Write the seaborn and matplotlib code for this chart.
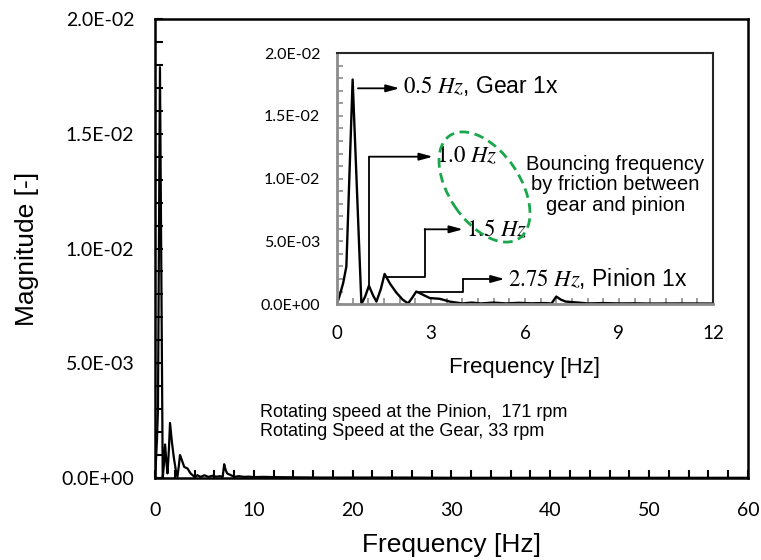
import matplotlib
matplotlib.use("Agg")
import matplotlib.pyplot as plt
from matplotlib.patches import Ellipse
from matplotlib.ticker import FuncFormatter, MultipleLocator
import seaborn as sns
import pandas as pd

# spectrum (Hz, magnitude)
freq_hz = [0.0, 0.1, 0.2, 0.3, 0.5, 0.78, 0.9, 1.02, 1.15, 1.26, 1.4, 1.52,
           1.7, 1.9, 2.1, 2.27, 2.4, 2.53, 2.7, 2.96, 3.28, 3.6, 4.0, 4.3,
           4.6, 5.0, 5.4, 5.8, 6.2, 6.6, 6.85, 7.0, 7.15, 7.3, 7.7, 8.0,
           8.5, 9.0, 9.5, 10.0, 11.0, 12.0, 14.0, 17.0, 20.0, 25.0, 30.0,
           35.0, 40.0, 45.0, 50.0, 55.0, 60.0]
magnitude = [0.0, 0.8e-3, 1.7e-3, 3.0e-3, 17.9e-3, 0.0, 0.6e-3, 1.46e-3,
             0.7e-3, 0.2e-3, 1.2e-3, 2.4e-3, 1.6e-3, 0.9e-3, 0.35e-3,
             0.05e-3, 0.5e-3, 1.0e-3, 0.8e-3, 0.48e-3, 0.42e-3, 0.2e-3,
             0.05e-3, 0.12e-3, 0.05e-3, 0.12e-3, 0.05e-3, 0.1e-3, 0.06e-3,
             0.08e-3, 0.05e-3, 0.6e-3, 0.35e-3, 0.2e-3, 0.12e-3, 0.05e-3,
             0.08e-3, 0.05e-3, 0.06e-3, 0.04e-3, 0.05e-3, 0.04e-3, 0.03e-3,
             0.02e-3, 0.02e-3, 0.02e-3, 0.01e-3, 0.01e-3, 0.01e-3, 0.01e-3,
             0.01e-3, 0.01e-3, 0.01e-3]

main_xticks = [0, 10, 20, 30, 40, 50, 60]
inset_xticks = [0, 3, 6, 9, 12]
yticks = [0.0, 0.005, 0.010, 0.015, 0.020]

sns.set_style("ticks")
plt.rcParams["font.family"] = ["Liberation Sans", "DejaVu Sans"]
plt.rcParams["mathtext.fontset"] = "stix"
plt.rcParams["text.color"] = "black"
plt.rcParams["axes.labelcolor"] = "black"
plt.rcParams["xtick.labelcolor"] = "black"
plt.rcParams["ytick.labelcolor"] = "black"

df = pd.DataFrame({"freq": freq_hz, "mag": magnitude})
sci = FuncFormatter(lambda v, p: format(v, ".1E"))

fig = plt.figure(figsize=(7.61, 5.6), dpi=100)

# main axes
ax = fig.add_axes([0.2037, 0.1464, 0.779, 0.8196])
sns.lineplot(data=df, x="freq", y="mag", ax=ax, color="black", lw=1.6)
ax.set_xlim(0, 60)
ax.set_ylim(0, 0.02)
ax.set_xticks(main_xticks)
ax.set_yticks(yticks)
ax.xaxis.set_minor_locator(MultipleLocator(2))
ax.yaxis.set_minor_locator(MultipleLocator(0.001))
ax.yaxis.set_major_formatter(sci)
ax.tick_params(which="both", direction="in", width=1.5, color="black",
               labelcolor="black", length=6, labelsize=14)
ax.tick_params(axis="y", pad=15)
ax.tick_params(axis="x", pad=17)
for lab in ax.get_xticklabels() + ax.get_yticklabels():
    lab.set_fontfamily("Lato")
for s in ax.spines.values():
    s.set_linewidth(1.8)
    s.set_color("black")
ax.set_xlabel("Frequency [Hz]", fontsize=19, labelpad=10)
ax.set_ylabel("Magnitude [-]", fontsize=19, labelpad=16)

ax.text(0.177, 0.122, "Rotating speed at the Pinion,  171 rpm\n"
        "Rotating Speed at the Gear, 33 rpm",
        transform=ax.transAxes, fontsize=13, va="center", linespacing=1.2)

# inset axes
ax_in = fig.add_axes([0.4428, 0.457, 0.494, 0.448])
sns.lineplot(data=df, x="freq", y="mag", ax=ax_in, color="black", lw=1.7)
ax_in.set_xlim(0, 12)
ax_in.set_ylim(0, 0.02)
ax_in.set_xticks(inset_xticks)
ax_in.set_yticks(yticks)
ax_in.xaxis.set_minor_locator(MultipleLocator(0.5))
ax_in.yaxis.set_minor_locator(MultipleLocator(0.001))
ax_in.yaxis.set_major_formatter(sci)
ax_in.tick_params(which="both", direction="in", width=1.2, color="#8c8c8c",
                  labelcolor="black", length=4)
ax_in.tick_params(axis="y", labelsize=11.5, pad=12)
ax_in.tick_params(axis="x", labelsize=13.5, pad=15)
for lab in ax_in.get_xticklabels() + ax_in.get_yticklabels():
    lab.set_fontfamily("Lato")
ax_in.spines["left"].set_color("#8c8c8c")
ax_in.spines["bottom"].set_color("#8c8c8c")
ax_in.spines["left"].set_linewidth(2)
ax_in.spines["bottom"].set_linewidth(2)
ax_in.spines["top"].set_linewidth(1.5)
ax_in.spines["right"].set_linewidth(1.5)
ax_in.set_xlabel("Frequency [Hz]", fontsize=16, labelpad=11)
ax_in.set_ylabel("")

# elbow arrows to the peaks
arrow_kw = dict(arrowstyle="-|>,head_length=0.8,head_width=0.22",
                color="black", lw=1.3, shrinkA=0, shrinkB=0)
paths = [
    ([0.67, 2.0], [17.2e-3, 17.2e-3]),
    ([1.02, 1.02, 3.06], [1.45e-3, 11.75e-3, 11.75e-3]),
    ([1.57, 2.8, 2.8, 4.02], [2.15e-3, 2.15e-3, 5.96e-3, 5.96e-3]),
    ([2.53, 4.02, 4.02, 5.35], [1.0e-3, 1.0e-3, 2.0e-3, 2.0e-3]),
]
for xs, ys in paths:
    ax_in.plot(xs[:-1], ys[:-1], color="black", lw=1.3)
    ax_in.annotate("", xy=(xs[-1], ys[-1]), xytext=(xs[-2], ys[-2]),
                   arrowprops=arrow_kw)

labels = [
    (2.12, 17.35e-3, r"$0.5\ Hz$, Gear 1x"),
    (3.15, 11.85e-3, r"$1.0\ Hz$"),
    (4.12, 5.9e-3, r"$1.5\ Hz$"),
    (5.45, 2.0e-3, r"$2.75\ Hz$, Pinion 1x"),
]
for x, y, t in labels:
    ax_in.text(x, y, t, fontsize=16.5, va="center", ha="left")

ax_in.text(8.89, 9.5e-3, "Bouncing frequency\nby friction between\ngear and pinion",
           fontsize=14.5, ha="center", va="center", linespacing=1.1)

ell = Ellipse((4.845, 3.73), width=1.24, height=0.71, angle=-56,
              transform=fig.dpi_scale_trans, fill=False,
              edgecolor="#1aa64a", lw=2, ls=(0, (3.5, 2)))
fig.add_artist(ell)

fig.savefig("out.png", dpi=100)
